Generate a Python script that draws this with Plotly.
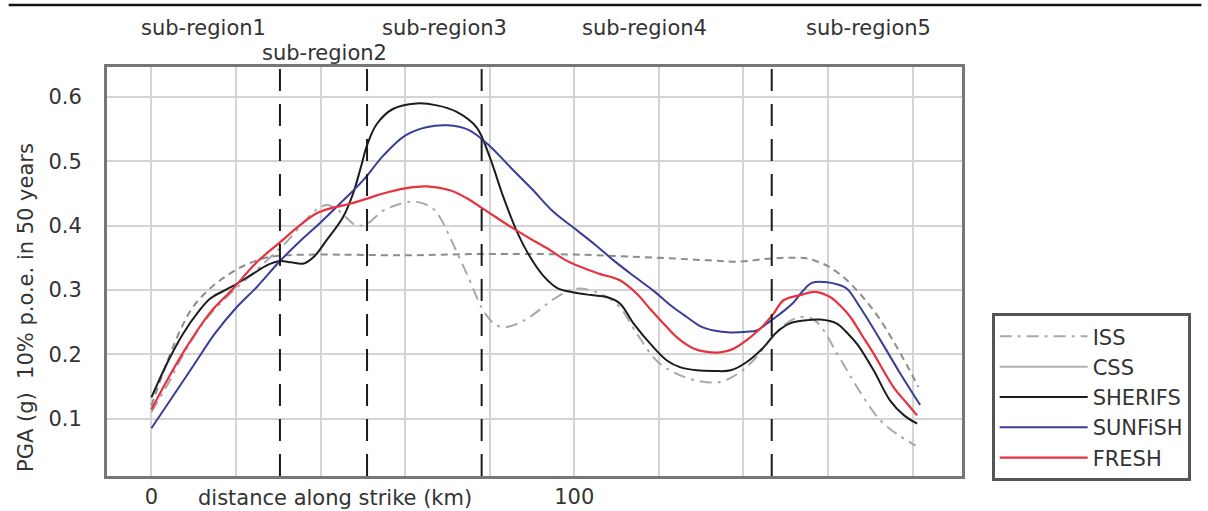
import plotly.graph_objects as go

# ---------------- data ----------------
sherifs_x = [0, 4, 7.5, 11, 14, 19, 24, 27.5, 30.4, 33, 36, 38.5, 41.4, 45.3, 47.7, 49.5, 51, 53.3, 57,
             62.7, 67.5, 72.2, 76.9, 80, 83.2, 86.5, 89.5, 92.7, 96, 100, 104, 107.7, 110.8, 114, 118.7,
             122, 125, 129, 133, 137, 140.8, 144.8, 147.5, 151, 155, 158.2, 162, 165, 167, 170.8, 174.7,
             178, 181.1]
sherifs_y = [0.133, 0.19, 0.232, 0.265, 0.287, 0.305, 0.325, 0.339, 0.345, 0.343, 0.341, 0.352, 0.377,
             0.413, 0.45, 0.49, 0.525, 0.558, 0.581, 0.590, 0.587, 0.577, 0.553, 0.507, 0.445, 0.39,
             0.352, 0.322, 0.303, 0.296, 0.292, 0.289, 0.279, 0.248, 0.211, 0.19, 0.18, 0.175, 0.174,
             0.175, 0.188, 0.211, 0.232, 0.248, 0.253, 0.254, 0.248, 0.23, 0.215, 0.175, 0.128, 0.105,
             0.092]

sunfish_x = [0, 5, 10, 15, 20, 25, 30.4, 35, 40, 45, 50, 55, 60, 65, 70, 75, 80, 85, 90, 95, 100.6,
             105, 109.3, 114, 118.7, 122.6, 126.6, 130, 133, 137, 140.8, 143.2, 145.6, 148.7, 151.9,
             154, 156.2, 159.8, 162.5, 164.5, 167.6, 172.4, 177.1, 181.8]
sunfish_y = [0.085, 0.134, 0.183, 0.232, 0.272, 0.305, 0.345, 0.375, 0.405, 0.437, 0.47, 0.51, 0.54,
             0.553, 0.556, 0.549, 0.524, 0.49, 0.457, 0.422, 0.393, 0.37, 0.346, 0.322, 0.299, 0.277,
             0.258, 0.243, 0.237, 0.234, 0.235, 0.237, 0.248, 0.263, 0.281, 0.298, 0.311, 0.312,
             0.308, 0.302, 0.273, 0.222, 0.17, 0.121]

fresh_x = [0, 3.5, 8.3, 13.8, 19.3, 24.9, 30.4, 35, 39, 43, 47, 51, 54.8, 60, 65.1, 70.6, 74.5, 78.5,
           81.5, 85, 90.3, 94.3, 97.5, 101.4, 106, 110.8, 114.8, 118, 121.1, 124.5, 128.2, 131, 134.5,
           137.5, 140.8, 144, 147, 149.5, 153.4, 157, 160.5, 163, 165.3, 168, 170.8, 175.5, 178.5, 181.1]
fresh_y = [0.114, 0.157, 0.211, 0.264, 0.302, 0.343, 0.374, 0.40, 0.419, 0.428, 0.434, 0.442, 0.45,
           0.458, 0.461, 0.455, 0.443, 0.426, 0.413, 0.398, 0.377, 0.362, 0.348, 0.336, 0.325, 0.315,
           0.294, 0.27, 0.248, 0.225, 0.209, 0.204, 0.203, 0.208, 0.222, 0.24, 0.262, 0.284, 0.292,
           0.297, 0.289, 0.275, 0.258, 0.23, 0.201, 0.149, 0.125, 0.105]

css_x = [0, 3, 7, 10, 14, 18, 22, 27, 32, 40, 60, 80, 100, 120, 132, 139, 145, 150, 155, 158, 160.5,
         164.5, 170.8, 176.3, 181.4]
css_y = [0.12, 0.175, 0.24, 0.275, 0.303, 0.323, 0.338, 0.35, 0.354, 0.355, 0.354, 0.356, 0.355, 0.35,
         0.346, 0.344, 0.348, 0.35, 0.349, 0.343, 0.335, 0.315, 0.268, 0.211, 0.149]

iss_x = [0, 4, 8, 13, 18, 23, 28, 32, 36, 39, 41.5, 44, 46.5, 48.5, 51, 55, 61, 64, 66.7, 68.5, 70.6,
         74.6, 78.5, 81, 83.2, 86, 89.5, 95.9, 100.6, 104, 107.5, 110.8, 114.8, 119.5, 123.5, 129,
         134.5, 139.2, 143, 146.3, 149, 152, 155, 157.4, 159.5, 161.3, 164.5, 168.4, 172.4, 176.3, 180.7]
iss_y = [0.11, 0.155, 0.205, 0.255, 0.29, 0.32, 0.35, 0.375, 0.405, 0.425, 0.432, 0.425, 0.41, 0.40,
         0.403, 0.424, 0.437, 0.435, 0.426, 0.41, 0.382, 0.325, 0.268, 0.248, 0.242, 0.246, 0.258,
         0.289, 0.302, 0.299, 0.29, 0.273, 0.232, 0.19, 0.172, 0.159, 0.157, 0.172, 0.195, 0.222,
         0.242, 0.255, 0.258, 0.25, 0.232, 0.211, 0.175, 0.133, 0.097, 0.076, 0.058]

boundaries_km = [30.4, 51, 78.1, 146.7]
subregion_names = ["sub-region1", "sub-region2", "sub-region3", "sub-region4", "sub-region5"]
subregion_label_x = [12.4, 41, 69.3, 116.7, 169.7]
subregion_label_row = [0, 1, 0, 0, 0]

x_gridvals = [0, 20, 40, 60, 80, 100, 120, 140, 160, 180]
x_ticktext = ["0", "", "", "", "", "100", "", "", "", ""]
y_gridvals = [0.1, 0.2, 0.3, 0.4, 0.5, 0.6]
y_ticktext = ["0.1", "0.2", "0.3", "0.4", "0.5", "0.6"]

# ---------------- figure ----------------
FONT = "DejaVu Sans"
TXT = "#333333"

fig = go.Figure()

fig.add_trace(go.Scatter(x=iss_x, y=iss_y, mode="lines", name="ISS",
                         line=dict(color="#a8a8a8", width=2, dash="12px,6px,3px,6px", shape="spline")))
fig.add_trace(go.Scatter(x=css_x, y=css_y, mode="lines", name="CSS", showlegend=False,
                         line=dict(color="#8c8c8c", width=2, dash="7px,5px", shape="spline")))
# legend entry for CSS (solid grey in the reference legend)
fig.add_trace(go.Scatter(x=[None], y=[None], mode="lines", name="CSS",
                         line=dict(color="#b0b0b0", width=2)))
fig.add_trace(go.Scatter(x=sherifs_x, y=sherifs_y, mode="lines", name="SHERIFS",
                         line=dict(color="#1c1c1c", width=2, shape="spline")))
fig.add_trace(go.Scatter(x=sunfish_x, y=sunfish_y, mode="lines", name="SUNFiSH",
                         line=dict(color="#3a3d97", width=2, shape="spline")))
fig.add_trace(go.Scatter(x=fresh_x, y=fresh_y, mode="lines", name="FRESH",
                         line=dict(color="#e6323e", width=2.2, shape="spline")))

# sub-region boundaries
for b in boundaries_km:
    fig.add_shape(type="line", xref="x", yref="paper", x0=b, x1=b, y0=0, y1=1,
                  line=dict(color="#1a1a1a", width=2, dash="22px,13px"), layer="above")

# top rule
fig.add_shape(type="line", xref="paper", yref="paper", x0=-0.115, x1=1.28, y0=1.1516, y1=1.1516,
              line=dict(color="#111111", width=2.5))

row_y = [1.0954, 1.0342]
for name, xv, r in zip(subregion_names, subregion_label_x, subregion_label_row):
    fig.add_annotation(x=xv, y=row_y[r], xref="x", yref="paper", text=name, showarrow=False,
                       xanchor="center", yanchor="middle", font=dict(family=FONT, size=21, color=TXT))

# axis titles
fig.add_annotation(x=43.4, y=-0.054, xref="x", yref="paper", text="distance along strike (km)",
                   showarrow=False, xanchor="center", yanchor="middle",
                   font=dict(family=FONT, size=21, color=TXT))
fig.add_annotation(x=-0.0947, y=0.411, xref="paper", yref="paper",
                   text="PGA (g)&nbsp;&nbsp;10% p.o.e. in 50 years", textangle=-90,
                   showarrow=False, xanchor="center", yanchor="middle",
                   font=dict(family=FONT, size=21, color=TXT))

fig.update_xaxes(range=[-10.5, 191.7], tickvals=x_gridvals, ticktext=x_ticktext,
                 showgrid=True, gridcolor="#d4d4d4", gridwidth=2, zeroline=False,
                 showline=True, mirror=True, linecolor="#777777", linewidth=3,
                 ticks="", tickfont=dict(family=FONT, size=21, color=TXT), ticklabelstandoff=0,
                 automargin=False)
fig.update_yaxes(range=[0.0107, 0.6467], tickvals=y_gridvals, ticktext=y_ticktext,
                 showgrid=True, gridcolor="#d4d4d4", gridwidth=2, zeroline=False,
                 showline=True, mirror=True, linecolor="#777777", linewidth=3,
                 ticks="", tickfont=dict(family=FONT, size=21, color=TXT), ticklabelstandoff=18,
                 automargin=False)

fig.update_layout(
    width=1208, height=511,
    margin=dict(l=107, r=246, t=67, b=35, autoexpand=False),
    paper_bgcolor="white", plot_bgcolor="white",
    font=dict(family=FONT, color=TXT),
    showlegend=True,
    legend=dict(x=1.0347, y=0.398, xanchor="left", yanchor="top",
                bgcolor="white", bordercolor="#555555", borderwidth=3,
                font=dict(family=FONT, size=21, color=TXT), itemwidth=88,
                tracegroupgap=0),
)

fig.write_html("out.html", config={"displayModeBar": False},
               post_script="document.body.style.margin='0';document.body.style.overflow='hidden';")
